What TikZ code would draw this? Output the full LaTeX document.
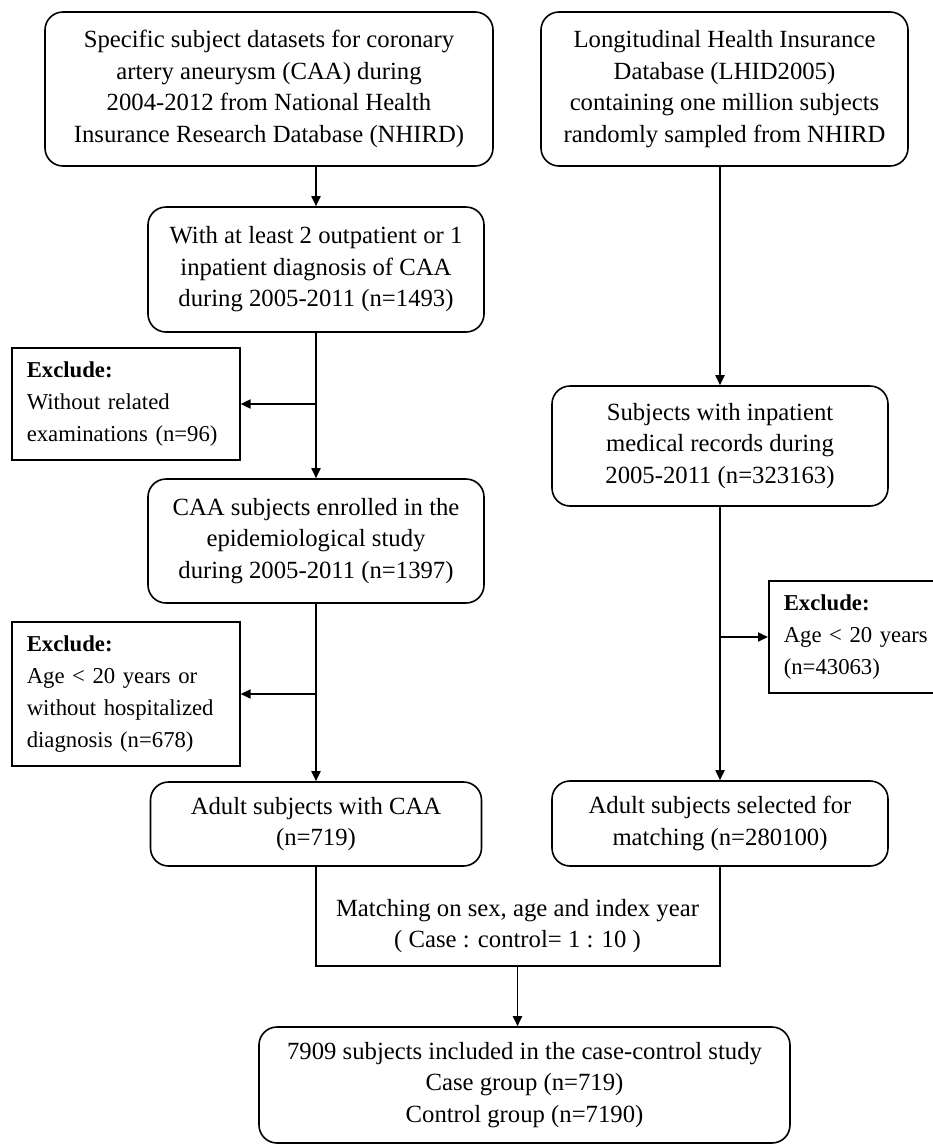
\documentclass[tikz,border=0pt]{standalone}
\usepackage{fontspec}
\setmainfont{Liberation Serif}
\usetikzlibrary{arrows.meta}
\hyphenpenalty=10000
\exhyphenpenalty=10000
\begin{document}
\begin{tikzpicture}[x=1bp,y=-1bp,
  every node/.style={font=\fontsize{24.8}{31.7}\selectfont, inner sep=0pt},
  rbox/.style={draw, line width=1.6bp, rounded corners=18bp, align=center},
  xbox/.style={draw, line width=1.6bp, align=left, text width=#1, inner xsep=15bp, anchor=west,
    font=\fontsize{22.8}{32}\selectfont},
  plain/.style={align=center},
  conn/.style={line width=1.8bp},
  arr/.style={conn, -{Triangle[length=10bp,width=9bp]}}
]
\useasboundingbox (0,0) rectangle (933,1146);

\node[rbox, minimum width=448bp, minimum height=154bp] (A) at (269,89)
  {Specific subject datasets for coronary\\artery aneurysm (CAA) during\\2004-2012 from National Health\\Insurance Research Database (NHIRD)};
\node[rbox, minimum width=367bp, minimum height=154bp] (B) at (724.5,89)
  {Longitudinal Health Insurance\\Database (LHID2005)\\containing one million subjects\\randomly sampled from NHIRD};
\node[rbox, minimum width=336bp, minimum height=125bp] (C) at (316,269.5)
  {With at least 2 outpatient or 1\\inpatient diagnosis of CAA\\during 2005-2011 (n=1493)};
\node[xbox=198bp, minimum height=112bp] (D) at (11,404)
  {\textbf{Exclude:}\\Without related\\examinations (n=96)};
\node[rbox, minimum width=336bp, minimum height=124bp] (E) at (316,541)
  {CAA subjects enrolled in the\\epidemiological study\\during 2005-2011 (n=1397)};
\node[xbox=198bp, minimum height=144bp] (F) at (11,694)
  {\textbf{Exclude:}\\Age < 20 years or\\without hospitalized\\diagnosis (n=678)};
\node[rbox, minimum width=331bp, minimum height=84bp] (G) at (316,824)
  {Adult subjects with CAA\\(n=719)};
\node[rbox, minimum width=336bp, minimum height=120bp] (H) at (720,446)
  {Subjects with inpatient\\medical records during\\2005-2011 (n=323163)};
\node[xbox=150bp, minimum height=112bp] (I) at (768,637)
  {\textbf{Exclude:}\\Age < 20 years\\(n=43063)};
\node[rbox, minimum width=336bp, minimum height=85bp] (J) at (720,823.5)
  {Adult subjects selected for\\matching (n=280100)};
\node[plain, minimum width=403bp, minimum height=80bp] (K) at (517.5,926)
  {Matching on sex, age and index year\\( Case : control= 1 : 10 )};
\node[rbox, minimum width=531bp, minimum height=116bp] (L) at (524.5,1085)
  {7909 subjects included in the case-control study\\Case group (n=719)\\Control group (n=7190)};

\draw[arr] (A.south -| C.north) -- (C.north);
\draw[arr] (C.south) -- (E.north);
\draw[arr] (D.east -| C.south) -- (D.east);
\draw[arr] (E.south) -- (G.north);
\draw[arr] (F.east -| E.south) -- (F.east);
\draw[arr] (B.south -| H.north) -- (H.north);
\draw[arr] (H.south) -- (J.north);
\draw[arr] (I.west -| H.south) -- (I.west);
\draw[conn] (G.south) -- (G.south |- K.south) -- (J.south |- K.south) -- (J.south);
\draw[arr] (K.south) -- (K.south |- L.north);
\end{tikzpicture}
\end{document}
